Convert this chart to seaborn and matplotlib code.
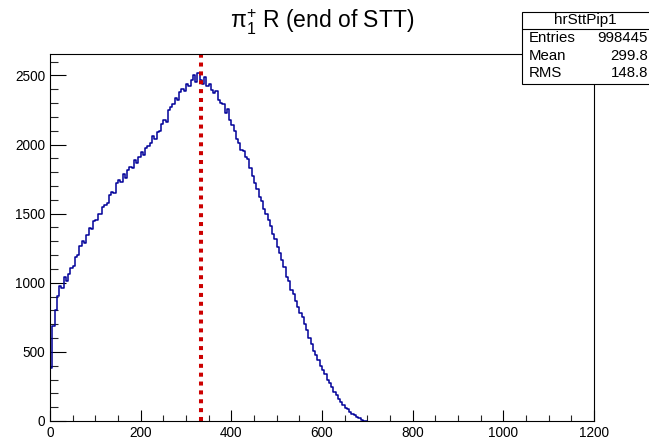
import numpy as np
import pandas as pd
import matplotlib
matplotlib.use("Agg")
import matplotlib.pyplot as plt
import seaborn as sns
from matplotlib.ticker import MultipleLocator

# ---- data (bin width 5, lower edges 0..695) ----
bin_width = 5
x_min, x_max = 0, 1200
filled_max = 700
counts_nonzero = [
    380, 690, 800, 905, 975, 960, 1040, 1015, 1060, 1110,
    1120, 1185, 1200, 1265, 1300, 1285, 1345, 1395, 1390, 1445,
    1455, 1500, 1495, 1550, 1560, 1575, 1635, 1660, 1650, 1720,
    1745, 1730, 1790, 1760, 1815, 1840, 1830, 1885, 1870, 1910,
    1945, 1925, 1975, 1990, 2010, 2060, 2040, 2090, 2095, 2150,
    2175, 2160, 2250, 2275, 2290, 2340, 2320, 2380, 2400, 2385,
    2440, 2420, 2470, 2500, 2455, 2520, 2470, 2440, 2485, 2420,
    2440, 2395, 2375, 2390, 2320, 2300, 2290, 2230, 2255, 2175,
    2140, 2095, 2040, 2010, 1960, 1950, 1910, 1895, 1830, 1770,
    1725, 1675, 1620, 1590, 1535, 1500, 1455, 1410, 1350, 1320,
    1260, 1215, 1165, 1115, 1045, 1010, 950, 920, 870, 825,
    780, 750, 700, 655, 600, 560, 510, 475, 438, 400,
    370, 340, 300, 278, 245, 212, 190, 158, 134, 116,
    96, 84, 64, 54, 40, 30, 19, 10, 3, 0,
]
marker_x = 333
title_text = r"$\pi_{1}^{+}$ R (end of STT)"
stats_name = "hrSttPip1"
stats_labels = ["Entries", "Mean", "RMS"]
stats_values = ["998445", "299.8", "148.8"]

# ---- build histogram table ----
edges = np.arange(x_min, filled_max + bin_width, bin_width)
df = pd.DataFrame({"x": edges[:-1] + bin_width / 2, "w": counts_nonzero})

sns.set_style("white")
plt.rcParams["font.family"] = ["Liberation Sans", "DejaVu Sans"]
plt.rcParams["mathtext.fontset"] = "custom"
plt.rcParams["mathtext.rm"] = "Liberation Sans"
plt.rcParams["mathtext.it"] = "Liberation Sans"
plt.rcParams["mathtext.default"] = "regular"
plt.rcParams["text.color"] = "black"

W, H = 649, 441
fig = plt.figure(figsize=(W / 100, H / 100), dpi=100)
ax = fig.add_axes([50 / W, 1 - 421 / H, 544 / W, 367 / H])

sns.histplot(data=df, x="x", weights="w", binwidth=bin_width,
             binrange=(x_min, filled_max), element="step",
             fill=False, color="#000099", linewidth=1.1, ax=ax)
ax.axvline(marker_x, color="#cc0000", linewidth=2.9,
           linestyle=(0, (1, 1.2)), dash_capstyle="butt", zorder=5)

ax.set_xlim(x_min, x_max)
ax.set_ylim(0, 2655)
ax.set_xlabel("")
ax.set_ylabel("")

ax.xaxis.set_major_locator(MultipleLocator(200))
ax.xaxis.set_minor_locator(MultipleLocator(50))
ax.yaxis.set_major_locator(MultipleLocator(500))
ax.yaxis.set_minor_locator(MultipleLocator(100))
ax.tick_params(axis="x", which="major", direction="in", length=7.9, width=0.8,
               labelsize=9.8, pad=3.5, colors="black", bottom=True, top=False)
ax.tick_params(axis="x", which="minor", direction="in", length=4.0, width=0.8,
               bottom=True, top=False)
ax.tick_params(axis="y", which="major", direction="in", length=11.7, width=0.8,
               labelsize=9.8, pad=3.5, colors="black", left=True, right=False)
ax.tick_params(axis="y", which="minor", direction="in", length=5.9, width=0.8,
               left=True, right=False)
for s in ax.spines.values():
    s.set_visible(True)
    s.set_color("black")
    s.set_linewidth(0.8)
    s.set_zorder(6)

fig.text(322 / W, 1 - 22 / H, title_text, ha="center", va="center",
         fontsize=16.5, color="black")

# ---- stats box ----
bx0, by0, bx1, by1 = 522, 12, 652, 84
rect = plt.Rectangle((bx0 / W, 1 - by1 / H), (bx1 - bx0) / W, (by1 - by0) / H,
                     transform=fig.transFigure, facecolor="white",
                     edgecolor="black", linewidth=0.8, zorder=10)
fig.patches.append(rect)
fig.add_artist(plt.Line2D([bx0 / W, bx1 / W], [1 - 29 / H, 1 - 29 / H],
                          transform=fig.transFigure, color="black",
                          linewidth=0.8, zorder=11))
fig.text(585 / W, 1 - 20 / H, stats_name, ha="center", va="center",
         fontsize=11, color="black", zorder=12)
row_y = [38, 56, 73]
for lab, val, yy in zip(stats_labels, stats_values, row_y):
    fig.text(529 / W, 1 - yy / H, lab, ha="left", va="center", fontsize=10.8,
             color="black", zorder=12)
    fig.text(648 / W, 1 - yy / H, val, ha="right", va="center", fontsize=10.8,
             color="black", zorder=12)

fig.savefig("out.png", dpi=100)
